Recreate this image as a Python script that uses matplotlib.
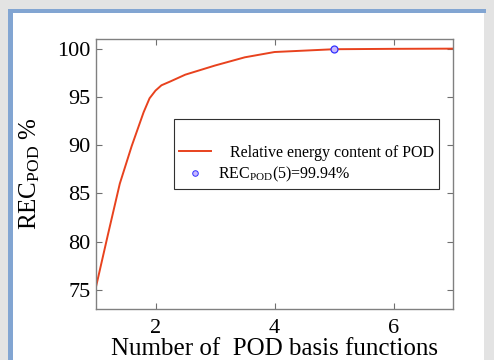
import numpy as np
import matplotlib
matplotlib.use("Agg")
import matplotlib.pyplot as plt
from matplotlib.patches import Rectangle
from matplotlib.lines import Line2D

plt.rcParams['font.family'] = ['Liberation Serif', 'DejaVu Serif']
plt.rcParams['mathtext.fontset'] = 'custom'
plt.rcParams['mathtext.rm'] = 'Liberation Serif'
plt.rcParams['mathtext.it'] = 'Liberation Serif:italic'

# relative energy content vs number of POD modes
n_basis = [1, 1.2, 1.4, 1.6, 1.8, 1.9, 2.0, 2.1, 2.25, 2.5, 3, 3.5, 4, 5, 6, 7]
rec_pod = [75.3, 80.7, 86.0, 89.9, 93.4, 94.85, 95.65, 96.2, 96.6, 97.3, 98.25, 99.1,
           99.65, 99.94, 99.98, 100.0]
mark_n = [5]
mark_rec = [99.94]
xticks = [2, 4, 6]
yticks = [75, 80, 85, 90, 95, 100]

W, H = 494, 360
fig = plt.figure(figsize=(W / 100, H / 100), dpi=100)

# frame around the picture
def px_rect(x0, y0, x1, y1, color):
    fig.patches.append(Rectangle((x0 / W, 1 - y1 / H), (x1 - x0) / W, (y1 - y0) / H,
                                 transform=fig.transFigure, facecolor=color,
                                 edgecolor='none', zorder=-10))

px_rect(0, 0, W, H, '#e3e3e3')
px_rect(13, 13, 484, H, 'white')
px_rect(8, 9, 486, 13, '#82a5d2')
px_rect(8, 9, 13, H, '#82a5d2')

ax = fig.add_axes([96 / W, 1 - 309 / H, 357 / W, 270 / H])
line_col = '#e8421e'
ax.plot(n_basis, rec_pod, color=line_col, lw=1.4)
ax.plot(mark_n, mark_rec, 'o', ms=5, mfc='#c8b8ff', mec='#3030ff', mew=0.9)

ax.set_xlim(1, 7)
ax.set_ylim(73, 101)
ax.set_xticks(xticks)
ax.set_yticks(yticks)
ax.tick_params(direction='in', top=True, right=True, length=4, width=0.8,
               colors='#707070', labelcolor='black', labelsize=16)
ax.tick_params(axis='x', pad=7)
ax.tick_params(axis='y', pad=4)
for s in ax.spines.values():
    s.set_color('#808080')
    s.set_linewidth(1.0)

ax.set_xlabel('Number of  POD basis functions', fontsize=18, labelpad=0.5)
ax.set_ylabel(r'REC$_{\mathrm{POD}}$ %', fontsize=18)
ax.yaxis.set_label_coords(-0.15, 0.5)

handles = [Line2D([], [], color='none'),
           Line2D([], [], color=line_col, lw=1.4),
           Line2D([], [], ls='none', marker='o', ms=4, mfc='#c8b8ff', mec='#3030ff', mew=0.7)]
labels = [' ', '   Relative energy content of POD', r'REC$_{\mathrm{POD}}$(5)=99.94%']
leg = ax.legend(handles, labels, loc='upper left', bbox_to_anchor=(0.218, 0.704),
                borderaxespad=0, fontsize=11.5, frameon=True, fancybox=False,
                framealpha=1, edgecolor='#303030', handlelength=2.0,
                handletextpad=0.4, labelspacing=0.25, borderpad=0.35)
leg.get_frame().set_linewidth(0.8)

fig.savefig('out.png', dpi=100)
